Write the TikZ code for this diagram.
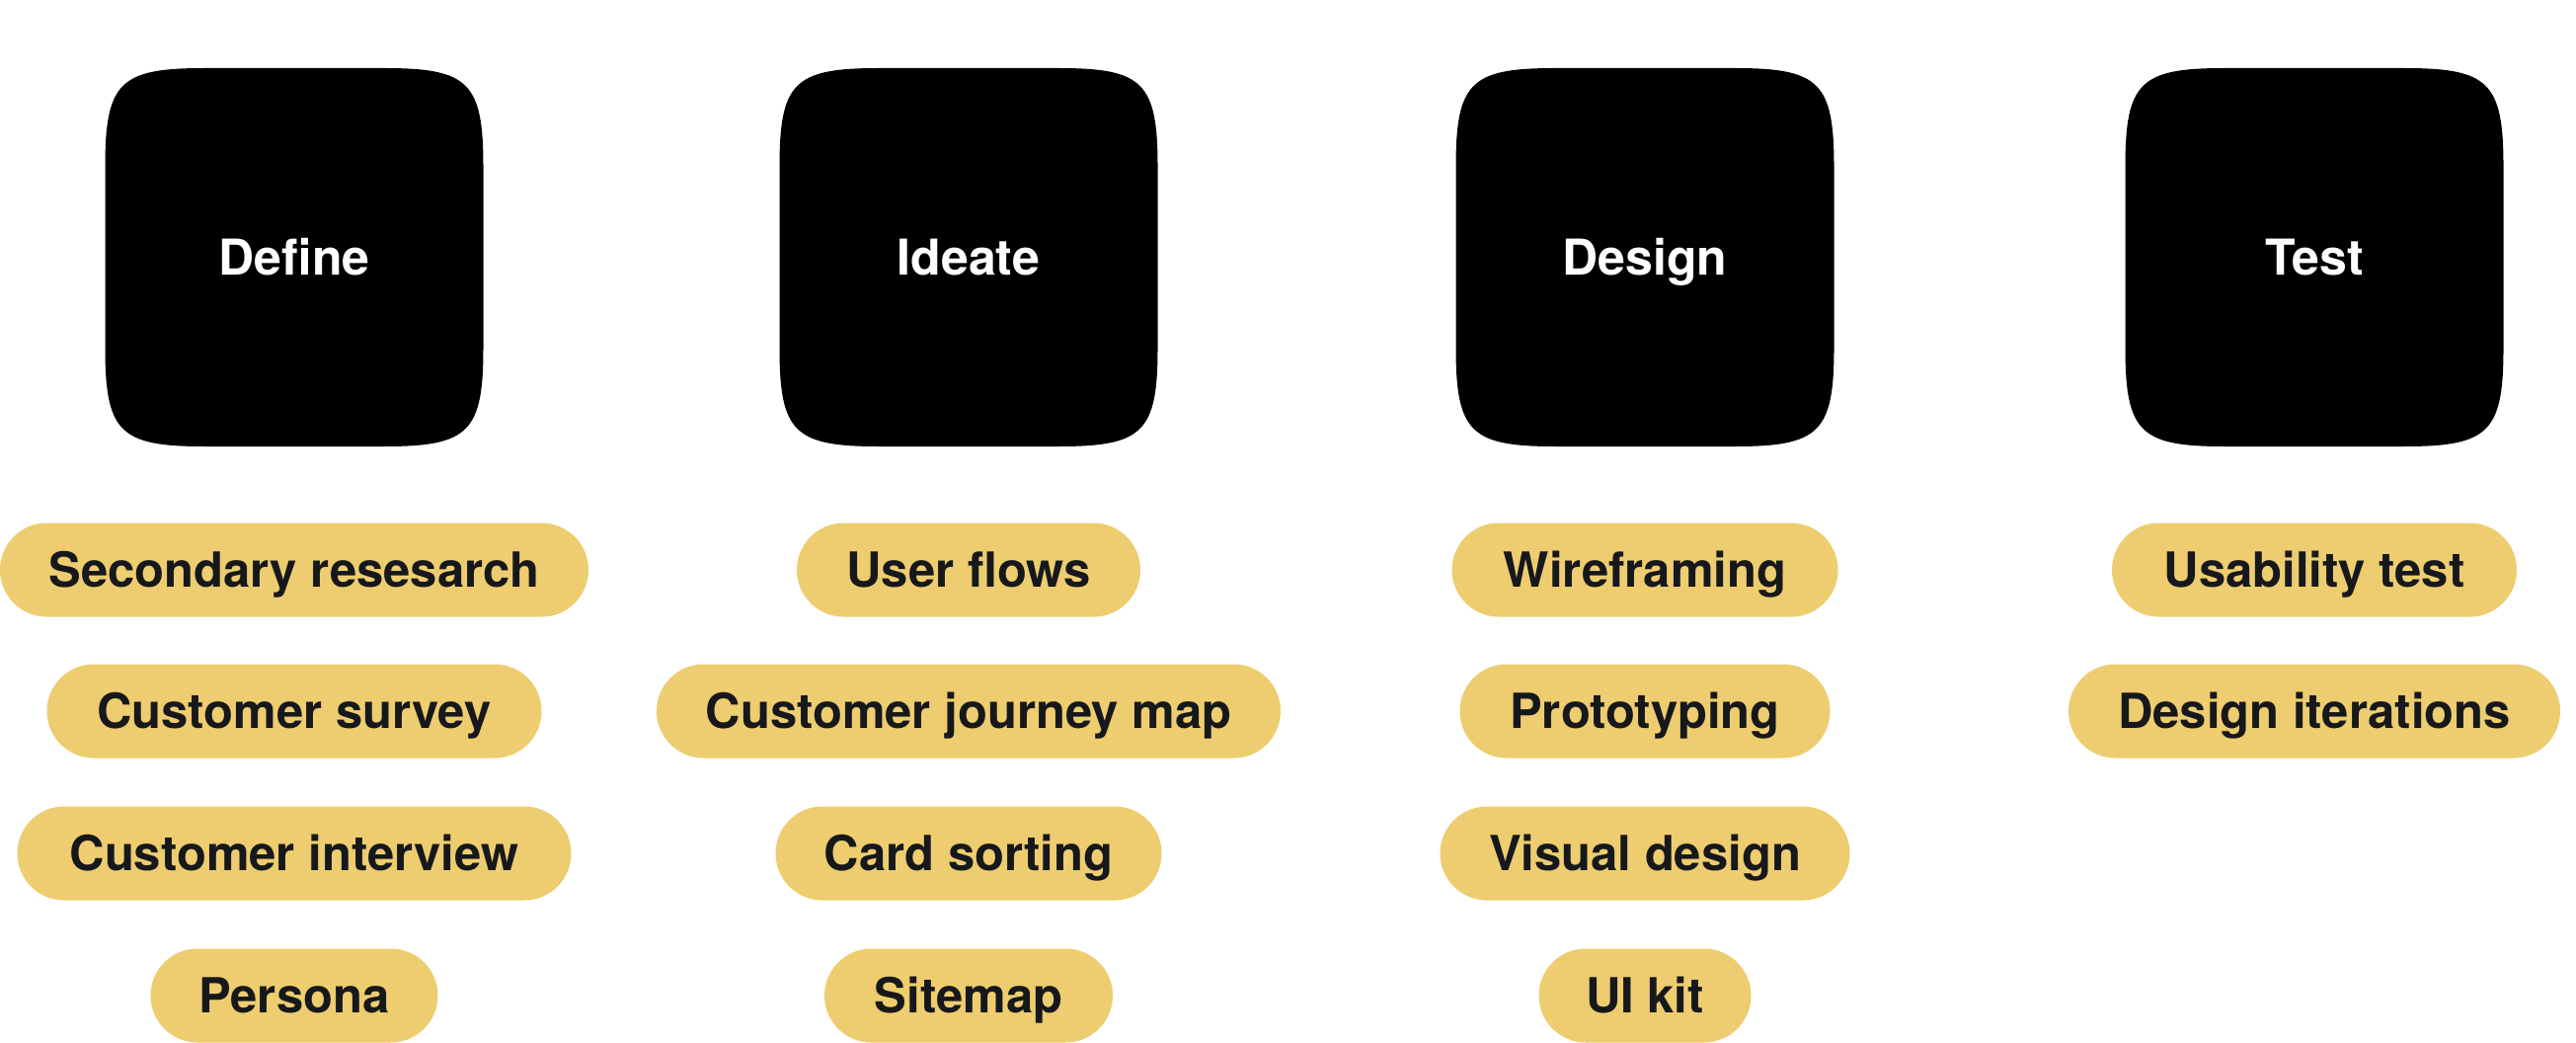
\documentclass[tikz,border=0pt]{standalone}
\usepackage{fontspec}
\setmainfont{TeX Gyre Heros}
\definecolor{pillc}{HTML}{EDCD6F}
\definecolor{ink}{HTML}{17181C}
% squircle path: centre x, centre y, half side, corner size
\newcommand\sqcpath[4]{({(#1)+(#4)-(#3)},{(#2)-(#3)}) -- ({(#1)+(#3)-(#4)},{(#2)-(#3)})
 .. controls ({(#1)+(#3)-0.147*(#4)},{(#2)-(#3)}) and ({(#1)+(#3)},{(#2)-(#3)+0.147*(#4)}) .. ({(#1)+(#3)},{(#2)-(#3)+(#4)})
 -- ({(#1)+(#3)},{(#2)+(#3)-(#4)})
 .. controls ({(#1)+(#3)},{(#2)+(#3)-0.147*(#4)}) and ({(#1)+(#3)-0.147*(#4)},{(#2)+(#3)}) .. ({(#1)+(#3)-(#4)},{(#2)+(#3)})
 -- ({(#1)-(#3)+(#4)},{(#2)+(#3)})
 .. controls ({(#1)-(#3)+0.147*(#4)},{(#2)+(#3)}) and ({(#1)-(#3)},{(#2)+(#3)-0.147*(#4)}) .. ({(#1)-(#3)},{(#2)+(#3)-(#4)})
 -- ({(#1)-(#3)},{(#2)-(#3)+(#4)})
 .. controls ({(#1)-(#3)},{(#2)-(#3)+0.147*(#4)}) and ({(#1)-(#3)+0.147*(#4)},{(#2)-(#3)}) .. cycle}
\newcommand\phasebox[3]{% name, centre x, label
  \foreach \k in {1,...,34}{\fill[black,opacity=0.0018] \sqcpath{#2}{268}{191.5+\k}{100+\k};}
  \fill[black] \sqcpath{#2}{260.5}{191.5}{100};
  \node[phasetext] (#1) at (#2,260.5) {#3};}
\tikzset{
  phasetext/.style={text=white, font=\fontsize{50}{58}\selectfont\bfseries, inner sep=0pt,
    text height=36pt, text depth=0pt},
  pill/.style={fill=pillc, text=ink, rounded corners=47.5pt, minimum height=95pt,
    inner sep=0pt, font=\fontsize{49}{56}\selectfont\bfseries,
    text height=35pt, text depth=0pt},
  wd/.style={minimum width=#1pt}
}
\begin{document}
\begin{tikzpicture}[x=1pt,y=-1pt]
\useasboundingbox (0,0) rectangle (2609,1056);
\fill[white] (0,0) rectangle (2609,1056);
\phasebox{define}{298}{Define}
\phasebox{ideate}{981}{Ideate}
\phasebox{design}{1666}{Design}
\phasebox{test}{2344}{Test}
% Define
\node[pill,wd=596] (d1) at (298,577) {Secondary resesarch};
\node[pill,wd=501] (d2) at (298,720) {Customer survey};
\node[pill,wd=561] (d3) at (298,864) {Customer interview};
\node[pill,wd=291] (d4) at (298,1008) {Persona};
% Ideate
\node[pill,wd=348] (i1) at (981,577) {User flows};
\node[pill,wd=632] (i2) at (981,720) {Customer journey map};
\node[pill,wd=391] (i3) at (981,864) {Card sorting};
\node[pill,wd=292] (i4) at (981,1008) {Sitemap};
% Design
\node[pill,wd=391] (g1) at (1666,577) {Wireframing};
\node[pill,wd=375] (g2) at (1666,720) {Prototyping};
\node[pill,wd=415] (g3) at (1666,864) {Visual design};
\node[pill,wd=215] (g4) at (1666,1008) {UI kit};
% Test
\node[pill,wd=410] (t1) at (2344,577) {Usability test};
\node[pill,wd=498] (t2) at (2344,720) {Design iterations};
\end{tikzpicture}
\end{document}
